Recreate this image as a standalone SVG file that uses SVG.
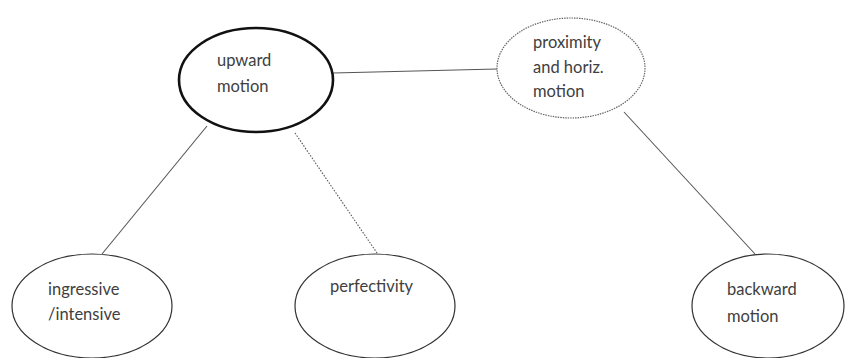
<svg xmlns="http://www.w3.org/2000/svg" width="846" height="358" viewBox="0 0 846 358">
<style>
.n{fill:#fff;stroke:#333;stroke-width:1.2}
.t{font-family:Lato,"Open Sans","DejaVu Sans",sans-serif;font-size:16.5px;fill:#404040}
.c{stroke:#555;stroke-width:1.1;fill:none}
</style>
<rect width="846" height="358" fill="#fff"/>
<g id="connectors">
<line class="c" x1="207" y1="126" x2="102" y2="254"/>
<line class="c" x1="295" y1="133" x2="377" y2="253" style="stroke-dasharray:1.5 1.5"/>
<line class="c" x1="333" y1="73" x2="497" y2="69"/>
<line class="c" x1="624" y1="112" x2="755" y2="254"/>
</g>
<g id="upward">
<ellipse class="n" cx="256" cy="80" rx="77" ry="52" style="stroke-width:2.6;stroke:#111"/>
<text class="t" x="217" y="66">upward</text>
<text class="t" x="217" y="92">motion</text>
</g>
<g id="proximity">
<ellipse class="n" cx="571" cy="68" rx="74" ry="50" style="stroke:#666;stroke-dasharray:1.5 1"/>
<text class="t" x="533" y="48">proximity</text>
<text class="t" x="533" y="73">and horiz.</text>
<text class="t" x="533" y="97">motion</text>
</g>
<g id="ingressive">
<ellipse class="n" cx="92" cy="306" rx="80" ry="52"/>
<text class="t" x="48" y="295">ingressive</text>
<text class="t" x="48" y="320">/intensive</text>
</g>
<g id="perfectivity">
<ellipse class="n" cx="375" cy="306" rx="80" ry="52"/>
<text class="t" x="330" y="292">perfectivity</text>
</g>
<g id="backward">
<ellipse class="n" cx="768" cy="306" rx="76" ry="52"/>
<text class="t" x="727" y="295">backward</text>
<text class="t" x="727" y="322">motion</text>
</g>
</svg>
